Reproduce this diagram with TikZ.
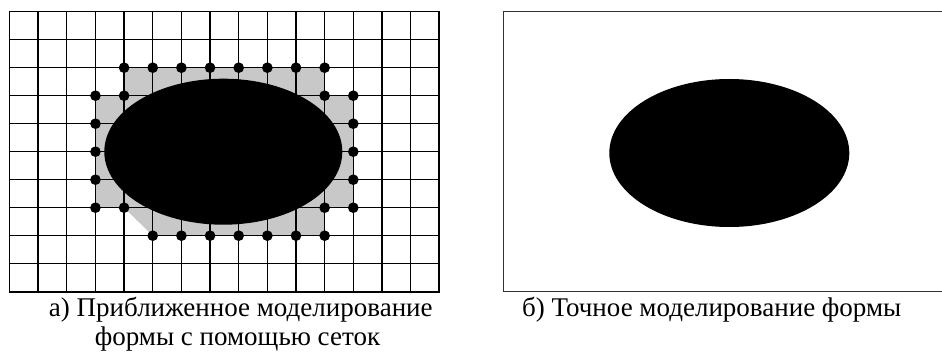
\documentclass[tikz,border=0pt]{standalone}
\usepackage{fontspec}
\setmainfont{Liberation Serif}
\definecolor{cellgray}{RGB}{200,200,200}
\definecolor{boxgray}{RGB}{50,50,50}
\begin{document}
\begin{tikzpicture}[x=0.75pt,y=-0.75pt,
  gridline/.style={line width=1pt,black},
  vertexdot/.style={circle,fill=black,inner sep=0pt,minimum size=8pt},
  caption/.style={anchor=base,inner sep=0pt,font=\fontsize{20.25}{22}\selectfont}]
\useasboundingbox (0,0) rectangle (942,356);
\foreach \i in {0,...,15}{
  \foreach \j in {0,...,10}{
    \coordinate (g-\i-\j) at ({9.5+28.65*\i},{11.7+28*\j});
  }
}
% gray approximation cells
\fill[cellgray] (g-4-2) -- (g-5-2) -- (g-6-2) -- (g-7-2) -- (g-8-2) -- (g-9-2) -- (g-10-2) -- (g-11-2)
  -- (g-11-3) -- (g-12-3) -- (g-12-4) -- (g-12-5) -- (g-12-6) -- (g-12-7) -- (g-11-7)
  -- (g-11-8) -- (g-10-8) -- (g-9-8) -- (g-8-8) -- (g-7-8) -- (g-6-8) -- (g-5-8)
  -- (g-4-7) -- (g-3-7) -- (g-3-6) -- (g-3-5) -- (g-3-4) -- (g-3-3) -- (g-4-3) -- cycle;
% grid
\foreach \i in {0,...,15} \draw[gridline] (g-\i-0) -- (g-\i-10);
\foreach \j in {0,...,10} \draw[gridline] (g-0-\j) -- (g-15-\j);
\draw[line width=1.2pt] (g-0-0) rectangle (g-15-10);
% left ellipse
\fill[black] (223.3,151.7) ellipse [x radius=119, y radius=73];
% vertex dots
\foreach \p in {4-2,5-2,6-2,7-2,8-2,9-2,10-2,11-2,11-3,12-3,12-4,12-5,12-6,12-7,11-7,
  11-8,10-8,9-8,8-8,7-8,6-8,5-8,4-7,3-7,3-6,3-5,3-4,3-3,4-3}
  \node[vertexdot] (d-\p) at (g-\p) {};
% right panel
\draw[line width=1.1pt,draw=boxgray] (503.5,11.7) rectangle (955,291.7);
\fill[black] (729.3,153) ellipse [x radius=120, y radius=74];
% captions
\node[caption] (capa1) at (240.8,316) {а) Приближенное моделирование};
\node[caption] (capa2) at (237.5,345) {формы с помощью сеток};
\node[caption] (capb) at (711.7,316) {б) Точное моделирование формы};
\end{tikzpicture}
\end{document}
